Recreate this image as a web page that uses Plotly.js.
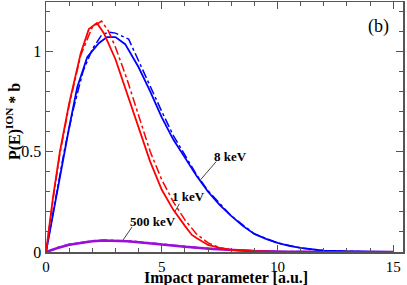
<!DOCTYPE html>
<html>
<head>
<meta charset="utf-8">
<script src="https://cdn.plot.ly/plotly-3.0.1.min.js"></script>
<style>html,body{margin:0;padding:0;background:#fff;}#chart{width:407px;height:285px;}</style>
</head>
<body>
<div id="chart"></div>
<script>
// Impact parameter grid (a.u.)
const b_1keV      = [0, 0.3, 0.6, 1.0, 1.5, 1.85, 2.2, 2.5, 3.0, 3.5, 4.0, 4.5, 5.0, 5.5, 6.0, 6.3, 6.5, 7.0, 7.5, 8.0, 8.5, 9.0, 10.0, 11.0, 12.0, 15.0];
const p_1keV      = [0, 0.27, 0.50, 0.74, 0.99, 1.11, 1.14, 1.09, 0.96, 0.79, 0.61, 0.45, 0.31, 0.21, 0.13, 0.085, 0.07, 0.035, 0.02, 0.011, 0.006, 0.003, 0.001, 0, 0, 0];
const b_1keV_dd   = [0, 0.3, 0.6, 1.0, 1.5, 2.0, 2.4, 2.7, 3.0, 3.5, 4.0, 4.5, 5.0, 5.5, 6.0, 6.5, 7.0, 7.5, 8.0, 9.0, 10.0, 12.0];
const p_1keV_dd   = [0, 0.26, 0.49, 0.73, 0.98, 1.12, 1.15, 1.10, 1.02, 0.86, 0.68, 0.50, 0.36, 0.25, 0.16, 0.09, 0.045, 0.022, 0.011, 0.004, 0.001, 0];

const b_8keV      = [0, 0.4, 0.77, 1.0, 1.35, 1.78, 2.28, 2.63, 3.0, 3.42, 4.0, 4.5, 5.0, 5.5, 6.0, 6.5, 7.0, 7.5, 8.0, 8.5, 9.0, 9.5, 10.0, 10.5, 11.0, 11.5, 12.0, 13.0, 14.0, 15.0];
const p_8keV      = [0, 0.25, 0.485, 0.62, 0.82, 0.97, 1.04, 1.07, 1.07, 1.035, 0.92, 0.80, 0.67, 0.56, 0.47, 0.38, 0.30, 0.235, 0.18, 0.13, 0.09, 0.065, 0.045, 0.03, 0.02, 0.012, 0.007, 0.003, 0.001, 0];
const b_8keV_dd   = [0, 0.4, 0.8, 1.2, 1.6, 2.0, 2.4, 2.7, 3.0, 3.57, 4.0, 4.5, 5.0, 5.5, 6.0, 6.5, 7.0, 8.0, 9.0, 10.0, 11.0, 12.0, 13.0, 15.0];
const p_8keV_dd   = [0, 0.26, 0.51, 0.72, 0.90, 1.01, 1.08, 1.095, 1.09, 1.06, 0.95, 0.83, 0.70, 0.58, 0.48, 0.385, 0.305, 0.18, 0.09, 0.045, 0.02, 0.007, 0.003, 0];

const b_500keV    = [0, 0.5, 1.0, 1.6, 2.0, 2.5, 3.0, 3.5, 4.0, 4.9, 6.0, 7.2, 8.0, 9.0, 10.0, 11.0, 12.0, 15.0];
const p_500keV    = [0, 0.02, 0.036, 0.049, 0.054, 0.057, 0.057, 0.054, 0.049, 0.037, 0.026, 0.015, 0.010, 0.005, 0.002, 0.001, 0, 0];
const b_500keV_dd = [0, 0.5, 1.0, 1.6, 2.0, 2.5, 3.0, 3.5, 4.0, 5.0, 6.0, 7.0, 8.0, 9.0, 10.0, 12.0, 15.0];
const p_500keV_dd = [0, 0.021, 0.037, 0.050, 0.055, 0.058, 0.058, 0.055, 0.050, 0.037, 0.027, 0.017, 0.010, 0.005, 0.002, 0, 0];

const xTicks = [0, 5, 10, 15];
const yTicks = [0, 0.5, 1];
const yTickText = ['0', '0.5', '1'];

const RED = '#ff0000', BLUE = '#0000ff', PURPLE = '#9b10d8';
const FONT = 'Liberation Serif, Times New Roman, serif';

function tr(x, y, color, dash, width) {
  return {x: x, y: y, type: 'scatter', mode: 'lines', hoverinfo: 'skip',
          line: {color: color, width: width, dash: dash, shape: 'linear'}, showlegend: false};
}

const data = [
  tr(b_500keV_dd, p_500keV_dd, PURPLE, 'dashdot', 2),
  tr(b_500keV, p_500keV, PURPLE, 'solid', 2.5),
  tr(b_8keV_dd, p_8keV_dd, BLUE, 'dashdot', 1.5),
  tr(b_8keV, p_8keV, BLUE, 'solid', 1.8),
  tr(b_1keV_dd, p_1keV_dd, RED, 'dashdot', 1.5),
  tr(b_1keV, p_1keV, RED, 'solid', 1.8)
];

const axisCommon = {
  showline: true, mirror: 'allticks', linecolor: '#555', linewidth: 1.5,
  ticks: 'inside', ticklen: 7, tickwidth: 1, tickcolor: '#555',
  showgrid: false, zeroline: false,
  tickfont: {family: FONT, size: 16, color: '#000'}
};

const layout = {
  width: 407, height: 285,
  margin: {l: 46, r: 4, t: 2, b: 33},
  paper_bgcolor: '#fff', plot_bgcolor: '#fff',
  font: {family: FONT, color: '#000'},
  xaxis: Object.assign({}, axisCommon, {
    range: [0, 15.42], tickvals: xTicks, ticktext: xTicks.map(String),
    minor: {dtick: 1, ticklen: 4, tickcolor: '#555', ticks: 'inside'},
    tickfont: {family: FONT, size: 15, color: '#000'}
  }),
  yaxis: Object.assign({}, axisCommon, {
    range: [0, 1.245], tickvals: yTicks, ticktext: yTickText,
    minor: {dtick: 0.1, ticklen: 4, tickcolor: '#555', ticks: 'inside'},
    ticklabelstandoff: 0
  }),
  shapes: [
    {type: 'line', xref: 'x', yref: 'y', x0: 6.64, y0: 0.355, x1: 7.35, y1: 0.45, line: {color: '#444', width: 1}},
    {type: 'line', xref: 'x', yref: 'y', x0: 5.56, y0: 0.20, x1: 5.76, y1: 0.24, line: {color: '#444', width: 1}},
    {type: 'line', xref: 'x', yref: 'y', x0: 3.33, y0: 0.06, x1: 3.72, y1: 0.125, line: {color: '#444', width: 1}}
  ],
  annotations: [
    {x: 7.95, y: 0.475, xref: 'x', yref: 'y', text: '<b>8 keV</b>', showarrow: false, font: {family: FONT, size: 13, color: '#000'}},
    {x: 6.15, y: 0.275, xref: 'x', yref: 'y', text: '<b>1 keV</b>', showarrow: false, font: {family: FONT, size: 13, color: '#000'}},
    {x: 4.6, y: 0.15, xref: 'x', yref: 'y', text: '<b>500 keV</b>', showarrow: false, font: {family: FONT, size: 13, color: '#000'}},
    {x: 14.38, y: 1.125, xref: 'x', yref: 'y', text: '(b)', showarrow: false, font: {family: FONT, size: 18, color: '#000'}},
    {x: 0.505, y: -0.103, xref: 'paper', yref: 'paper', text: '<b>Impact parameter [a.u.]</b>',
     showarrow: false, xanchor: 'center', yanchor: 'middle', font: {family: FONT, size: 16, color: '#000'}},
    {x: -0.0924, y: 0.52, xref: 'paper', yref: 'paper', text: '<b>P(E)<sup>ION</sup> * b</b>', textangle: -90,
     showarrow: false, xanchor: 'center', yanchor: 'middle', font: {family: FONT, size: 16, color: '#000'}}
  ]
};

Plotly.newPlot('chart', data, layout, {staticPlot: true, displayModeBar: false});
</script>
</body>
</html>
